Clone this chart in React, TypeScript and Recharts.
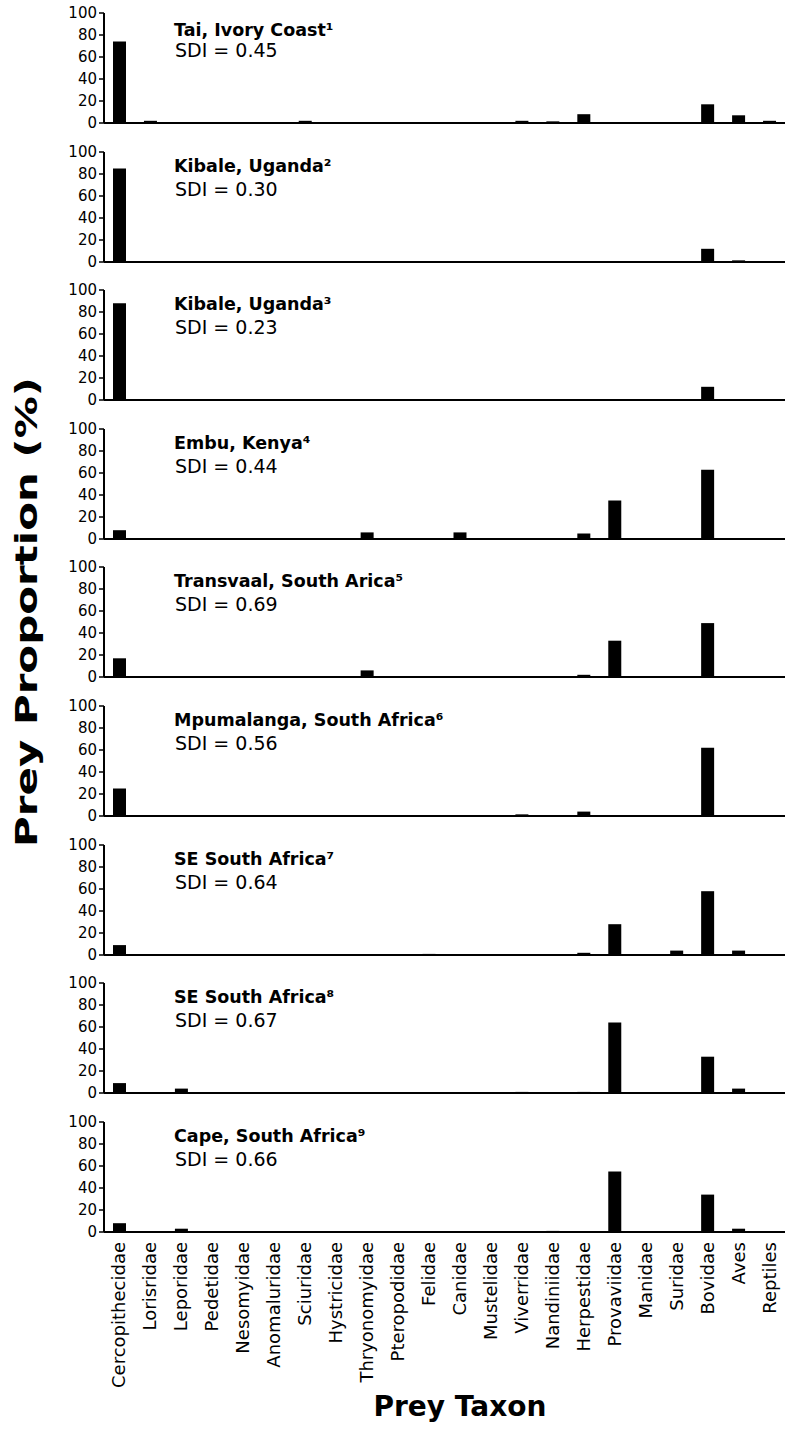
import React from "react";
import { BarChart, Bar, XAxis, YAxis } from "recharts";

const taxa = [
  "Cercopithecidae", "Lorisridae", "Leporidae", "Pedetidae", "Nesomyidae",
  "Anomaluridae", "Sciuridae", "Hystricidae", "Thryonomyidae", "Pteropodidae",
  "Felidae", "Canidae", "Mustelidae", "Viverridae", "Nandiniidae",
  "Herpestidae", "Provaviidae", "Manidae", "Suridae", "Bovidae", "Aves", "Reptiles",
];

const sites = [
  "Tai, Ivory Coast¹",
  "Kibale, Uganda²",
  "Kibale, Uganda³",
  "Embu, Kenya⁴",
  "Transvaal, South Arica⁵",
  "Mpumalanga, South Africa⁶",
  "SE South Africa⁷",
  "SE South Africa⁸",
  "Cape, South Africa⁹",
];

const sdi = ["0.45", "0.30", "0.23", "0.44", "0.69", "0.56", "0.64", "0.67", "0.66"];

// prey proportion (%) per taxon, same order as taxa
const tai = [74, 2, 0, 0, 0, 0, 2, 0, 0, 0, 0.5, 0, 0, 2, 1.5, 8, 0, 0, 0, 17, 7, 2];
const kibale2 = [85, 0, 0, 0, 0, 0, 0, 0, 0, 0, 0, 0, 0, 0.5, 0.5, 0, 0, 0, 0, 12, 1.5, 0.5];
const kibale3 = [88, 0, 0, 0, 0, 0, 0, 0, 0, 0, 0, 0, 0, 0, 0, 0, 0, 0, 0, 12, 0, 0];
const embu = [8, 0, 0, 0, 0, 0, 0, 0, 6, 0, 0, 6, 0, 0, 0, 5, 35, 0, 0, 63, 0, 0];
const transvaal = [17, 0.5, 0.5, 0.5, 0.5, 0.5, 0.5, 0.5, 6, 0, 0, 0, 0, 0, 0, 2, 33, 0, 0, 49, 0, 0];
const mpumalanga = [25, 0, 0, 0, 0, 0, 0, 0.5, 0.5, 0, 0.5, 0, 0, 1.5, 0, 4, 0, 0, 0, 62, 0, 0.5];
const seSA7 = [9, 0, 0, 0, 0, 0, 0, 0, 0, 0, 1, 0, 0, 0.5, 0, 2, 28, 0, 4, 58, 4, 0];
const seSA8 = [9, 0, 4, 0, 0, 0, 0, 0, 0.5, 0, 0, 0, 0, 1, 0, 1, 64, 0, 0, 33, 4, 0];
const cape = [8, 0, 3, 0, 0, 0, 0, 0, 0, 0, 0, 0, 0, 0, 1, 0, 55, 0.3, 0.5, 34, 3, 0.5];

const panels = [tai, kibale2, kibale3, embu, transvaal, mpumalanga, seSA7, seSA8, cape];

const yTicks = [0, 20, 40, 60, 80, 100];

const FONT = "'DejaVu Sans', Verdana, sans-serif";
const FIRST_TOP = 13;
const STEP = 138.6;
const PLOT_H = 110;
const PAD_TOP = 8;
const AXIS_H = 10;
const LABEL_H = 165;

const boundaries = taxa.map((_, i) => i).concat([taxa.length]);
const centers = taxa.map((_, i) => i + 0.5);

function TaxonTick(props: any) {
  const { x, y, payload } = props;
  const name = taxa[Math.floor(payload.value)];
  return (
    <text
      transform={`translate(${x + 6},${y}) rotate(-90)`}
      textAnchor="end"
      fontFamily={FONT}
      fontSize={18}
      fill="#000"
    >
      {name}
    </text>
  );
}

function Panel({ values, last }: { values: number[]; last: boolean }) {
  const rows = taxa.map((name, i) => ({ name, x: i + 0.5, v: values[i] }));
  const height = PAD_TOP + PLOT_H + AXIS_H + (last ? LABEL_H : 0);
  return (
    <BarChart
      width={790}
      height={height}
      data={rows}
      margin={{ top: PAD_TOP, right: 5, bottom: 0, left: 64 }}
    >
      <XAxis
        dataKey="x"
        type="number"
        domain={[0, taxa.length]}
        ticks={boundaries}
        tick={false}
        tickSize={5}
        height={AXIS_H}
        axisLine={{ stroke: "#000", strokeWidth: 2 }}
        tickLine={{ stroke: "#000", strokeWidth: 1.5 }}
        allowDataOverflow
      />
      <XAxis
        xAxisId="labels"
        dataKey="x"
        type="number"
        domain={[0, taxa.length]}
        ticks={centers}
        hide={!last}
        height={LABEL_H}
        axisLine={false}
        tickLine={false}
        tickSize={0}
        tickMargin={0}
        interval={0}
        tick={<TaxonTick />}
      />
      <YAxis
        domain={[0, 100]}
        ticks={yTicks}
        width={40}
        tickSize={5}
        tickMargin={2}
        interval={0}
        axisLine={{ stroke: "#000", strokeWidth: 2 }}
        tickLine={{ stroke: "#000", strokeWidth: 1.5 }}
        tick={{ fontFamily: FONT, fontSize: 15, fill: "#000" }}
      />
      <Bar dataKey="v" fill="#000" barSize={13} isAnimationActive={false} />
    </BarChart>
  );
}

export default function App() {
  return (
    <div style={{ position: "relative", width: 790, height: 1431, background: "#fff", overflow: "hidden" }}>
      <style>{"body{margin:0}"}</style>
      {panels.map((values, k) => (
        <div
          key={k}
          style={{ position: "absolute", left: 0, top: FIRST_TOP + STEP * k - PAD_TOP }}
        >
          <Panel values={values} last={k === panels.length - 1} />
        </div>
      ))}
      <svg
        width={790}
        height={1431}
        style={{ position: "absolute", left: 0, top: 0, pointerEvents: "none" }}
      >
        {sites.map((site, k) => {
          const top = FIRST_TOP + STEP * k;
          return (
            <g key={site + k} fontFamily={FONT} fill="#000">
              <text x={174} y={top + (k === 0 ? 23 : 20)} fontSize={17.5} fontWeight="bold">
                {site}
              </text>
              <text x={175} y={top + 44} fontSize={19}>
                {"SDI = " + sdi[k]}
              </text>
            </g>
          );
        })}
        <text
          transform="translate(37,612) rotate(-90)"
          textAnchor="middle"
          fontFamily={FONT}
          fontSize={30}
          fontWeight="bold"
          fill="#000"
          textLength={470}
          lengthAdjust="spacingAndGlyphs"
        >
          Prey Proportion (%)
        </text>
        <text
          x={460}
          y={1416}
          textAnchor="middle"
          fontFamily={FONT}
          fontSize={28}
          fontWeight="bold"
          fill="#000"
        >
          Prey Taxon
        </text>
      </svg>
    </div>
  );
}
